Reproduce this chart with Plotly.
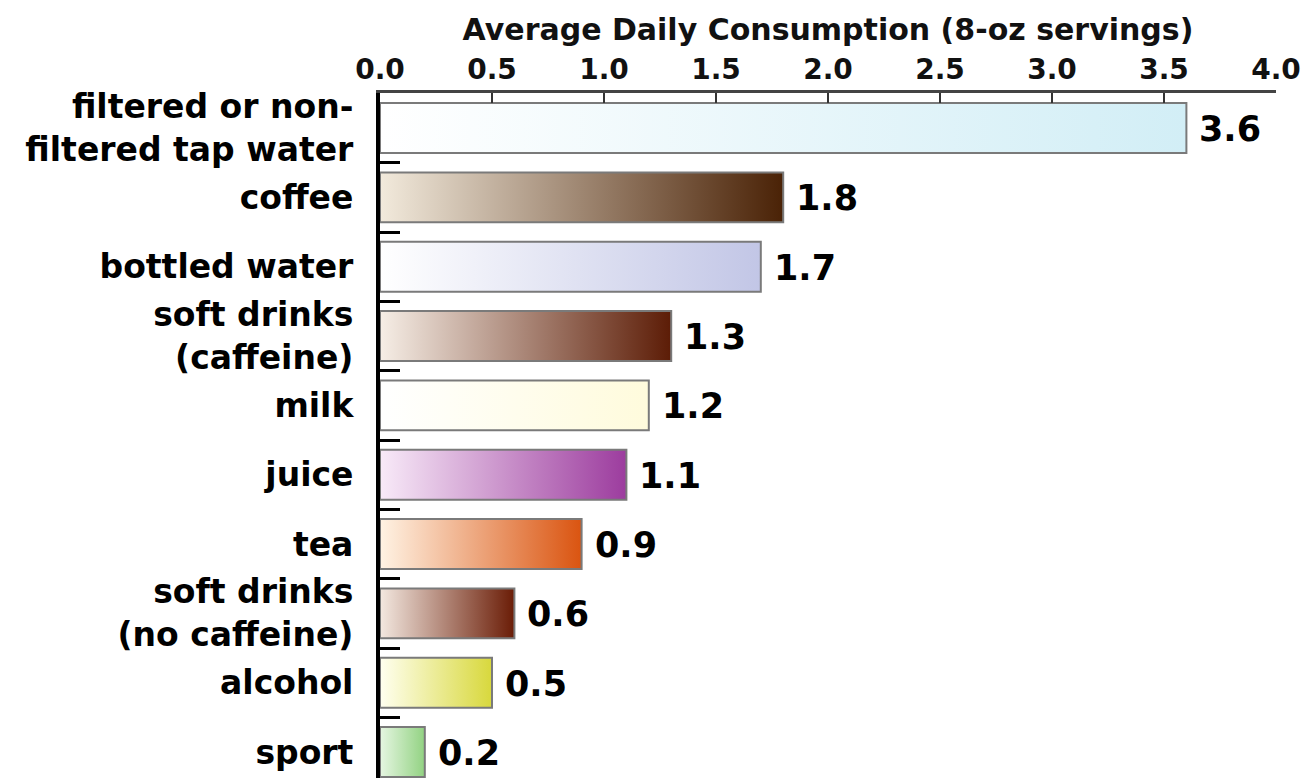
import plotly.graph_objects as go

categories = ["filtered or non-<br>filtered tap water", "coffee", "bottled water",
              "soft drinks<br>(caffeine)", "milk", "juice", "tea",
              "soft drinks<br>(no caffeine)", "alcohol", "sport"]
values = [3.6, 1.8, 1.7, 1.3, 1.2, 1.1, 0.9, 0.6, 0.5, 0.2]
start_colors = ["#ffffff", "#f2eadc", "#ffffff", "#f6eee6", "#ffffff", "#f8eaf8",
                "#fff3e4", "#f3e8e0", "#fffff0", "#e6f6e2"]
end_colors = ["#d2eef6", "#4a2206", "#c2c6e6", "#5c1c06", "#fffbdc", "#9c3c9e",
              "#da5410", "#6a1c06", "#d8d83c", "#92d282"]
x_ticks = [0.0, 0.5, 1.0, 1.5, 2.0, 2.5, 3.0, 3.5, 4.0]

idx = list(range(len(categories)))
half = 0.36

fig = go.Figure()

# gradient-filled bars
for i, v in enumerate(values):
    fig.add_trace(go.Scatter(
        x=[0, v, v, 0, 0],
        y=[i - half, i - half, i + half, i + half, i - half],
        mode="lines", fill="toself",
        fillgradient=dict(type="horizontal",
                          colorscale=[[0, start_colors[i]], [1, end_colors[i]]]),
        line=dict(color="#7a7a7a", width=2),
        showlegend=False, hoverinfo="skip",
    ))

# value labels
for i, v in enumerate(values):
    fig.add_annotation(
        x=v, y=i, xref="x", yref="y", text=f"{v:.1f}", showarrow=False,
        xanchor="left", yanchor="middle", xshift=11, yshift=-1,
        font=dict(family="DejaVu Sans", size=35, color="black", weight="bold"),
    )

fig.update_layout(
    width=1301, height=778,
    margin=dict(l=380, r=25, t=93, b=0),
    paper_bgcolor="white", plot_bgcolor="rgba(0,0,0,0)",
    xaxis=dict(
        side="top", range=[0, 4.0], tickmode="array", tickvals=x_ticks,
        ticktext=[f"{t:.1f}" for t in x_ticks],
        showgrid=False, zeroline=False,
        showline=True, linecolor="#444", linewidth=3,
        ticks="inside", ticklen=10, tickwidth=2, tickcolor="#333",
        ticklabelstandoff=0,
        tickfont=dict(family="DejaVu Sans", size=28, color="#111", weight="bold"),
        title=dict(text="Average Daily Consumption (8-oz servings)",
                   font=dict(family="DejaVu Sans", size=30, color="#111", weight="bold"),
                   standoff=4),
    ),
    yaxis=dict(
        range=[9.375, -0.505], tickmode="array", tickvals=idx, ticktext=categories,
        showgrid=False, zeroline=False,
        showline=True, linecolor="black", linewidth=4,
        ticks="", ticklabelstandoff=16,
        tickfont=dict(family="DejaVu Sans", size=33, color="black", weight="bold"),
        minor=dict(tickmode="array", tickvals=[i + 0.5 for i in idx[:-1]],
                   ticks="inside", ticklen=20, tickwidth=3, tickcolor="black",
                   showgrid=False),
    ),
)

fig.write_html("out.html")
